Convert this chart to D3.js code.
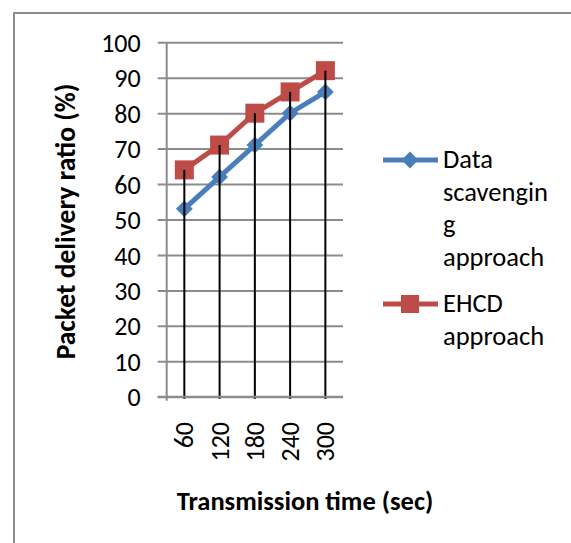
<!DOCTYPE html>
<html>
<head>
<meta charset="utf-8">
<script src="https://cdn.jsdelivr.net/npm/d3@7"></script>
<style>
  body { margin: 0; background: #fff; }
  text { font-family: Carlito, "Open Sans", sans-serif; fill: #000; }
</style>
</head>
<body>
<script>
const times = ["60", "120", "180", "240", "300"];
const scavenging = [53, 62, 71, 80, 86];
const ehcd = [64, 71, 80, 86, 92];
const yTicks = [0, 10, 20, 30, 40, 50, 60, 70, 80, 90, 100];
const seriesNames = [["Data", "scavengin", "g", "approach"], ["EHCD", "approach"]];

const W = 571, H = 543,
  plotLeft = 166.7, plotRight = 343, plotTop = 42.3, plotBottom = 396.7,
  blue = "#4a7ebb", red = "#be4b48", grid = "#8c8c8c";

const svg = d3.select("body").append("svg")
  .attr("width", W)
  .attr("height", H);

// outer chart border (continues off the picture)
svg.append("rect")
  .attr("x", 14).attr("y", 13)
  .attr("width", 700).attr("height", 700)
  .attr("fill", "none")
  .attr("stroke", grid)
  .attr("stroke-width", 2);

const x = d3.scaleBand().domain(times).range([plotLeft, plotRight]).padding(0);
const y = d3.scaleLinear().domain([0, 100]).range([plotBottom, plotTop]);
const cx = d => x(d) + x.bandwidth() / 2;

// horizontal gridlines + y labels
const yAxis = d3.axisLeft(y)
  .tickValues(yTicks)
  .tickSize(-(plotRight - plotLeft))
  .tickPadding(0)
  .tickSizeOuter(0);

const ga = svg.append("g")
  .attr("transform", `translate(${plotLeft},0)`)
  .call(yAxis);
ga.select(".domain").remove();
ga.selectAll(".tick line")
  .attr("x1", -9)
  .attr("stroke", grid)
  .attr("stroke-width", 2);
ga.selectAll(".tick text")
  .attr("x", -26)
  .attr("dy", "0.35em")
  .attr("fill", "#000")
  .style("font-size", "26px");

// y axis line
svg.append("line")
  .attr("x1", plotLeft).attr("x2", plotLeft)
  .attr("y1", plotTop).attr("y2", plotBottom + 4)
  .attr("stroke", grid).attr("stroke-width", 2);

// x axis labels, rotated
svg.append("g").selectAll("text")
  .data(times)
  .enter().append("text")
  .attr("transform", d => `translate(${cx(d)},422) rotate(-90)`)
  .attr("text-anchor", "end")
  .attr("dy", "0.35em")
  .style("font-size", "26px")
  .text(d => d);

// lines
const line = d3.line().x((d, i) => cx(times[i])).y(d => y(d));

svg.append("path")
  .datum(scavenging)
  .attr("d", line)
  .attr("fill", "none")
  .attr("stroke", blue)
  .attr("stroke-width", 5);

svg.append("path")
  .datum(ehcd)
  .attr("d", line)
  .attr("fill", "none")
  .attr("stroke", red)
  .attr("stroke-width", 5);

const diamond = d3.symbol().type(d3.symbolDiamond2).size(180);

svg.append("g").selectAll("path")
  .data(scavenging)
  .enter().append("path")
  .attr("d", diamond)
  .attr("transform", (d, i) => `translate(${cx(times[i])},${y(d)})`)
  .attr("fill", blue);

svg.append("g").selectAll("rect")
  .data(ehcd)
  .enter().append("rect")
  .attr("x", (d, i) => cx(times[i]) - 9.5)
  .attr("y", d => y(d) - 9.5)
  .attr("width", 19).attr("height", 19)
  .attr("fill", red);

// drop lines from the highest point to the axis
svg.append("g").selectAll("line")
  .data(times)
  .enter().append("line")
  .attr("x1", d => cx(d)).attr("x2", d => cx(d))
  .attr("y1", (d, i) => y(Math.max(scavenging[i], ehcd[i])))
  .attr("y2", y(0) + 2)
  .attr("stroke", "#000")
  .attr("stroke-width", 2);

// x axis line
svg.append("line")
  .attr("x1", plotLeft - 9).attr("x2", plotRight)
  .attr("y1", plotBottom).attr("y2", plotBottom)
  .attr("stroke", grid).attr("stroke-width", 2);

// axis titles
svg.append("text")
  .attr("transform", "translate(75,221.5) rotate(-90)")
  .attr("text-anchor", "middle")
  .style("font-size", "27.5px")
  .style("font-weight", "bold")
  .text("Packet delivery ratio (%)");

svg.append("text")
  .attr("x", 305).attr("y", 510)
  .attr("text-anchor", "middle")
  .style("font-size", "26.5px")
  .style("font-weight", "bold")
  .text("Transmission time (sec)");

// legend
const legendY = [160, 304];
const legendColors = [blue, red];
const lg = svg.append("g").selectAll("g")
  .data(seriesNames)
  .enter().append("g")
  .attr("transform", (d, i) => `translate(0,${legendY[i]})`);

lg.append("line")
  .attr("x1", 383).attr("x2", 438)
  .attr("stroke", (d, i) => legendColors[i])
  .attr("stroke-width", 5);

lg.filter((d, i) => i === 0).append("path")
  .attr("d", diamond)
  .attr("transform", "translate(410,0)")
  .attr("fill", blue);

lg.filter((d, i) => i === 1).append("rect")
  .attr("x", 401).attr("y", -9)
  .attr("width", 18).attr("height", 18)
  .attr("fill", red);

lg.each(function(d) {
  const t = d3.select(this).append("text")
    .attr("x", 443)
    .attr("y", 8)
    .style("font-size", "26.5px");
  d.forEach((s, j) => {
    t.append("tspan")
      .attr("x", 443)
      .attr("dy", j === 0 ? 0 : 32.5)
      .text(s);
  });
});
</script>
</body>
</html>
